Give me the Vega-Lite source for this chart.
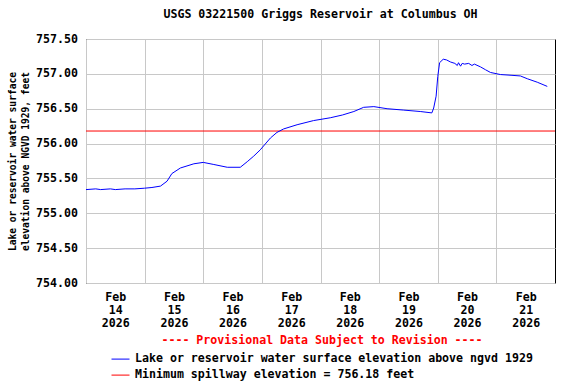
{
  "$schema": "https://vega.github.io/schema/vega-lite/v6.json",
  "width": 469,
  "height": 244,
  "autosize": "none",
  "padding": {"left": 86, "top": 39, "right": 21, "bottom": 101},
  "background": "white",
  "title": {
    "text": "USGS 03221500 Griggs Reservoir at Columbus OH",
    "font": "DejaVu Sans Mono",
    "fontWeight": "bold",
    "fontSize": 11.6,
    "color": "black",
    "anchor": "middle",
    "offset": 12
  },
  "config": {
    "view": {"stroke": "black", "strokeWidth": 1},
    "axis": {
      "labelFont": "DejaVu Sans Mono",
      "labelFontWeight": "bold",
      "labelFontSize": 11.6,
      "labelColor": "black",
      "titleFont": "DejaVu Sans Mono",
      "titleFontWeight": "bold",
      "titleColor": "black",
      "gridColor": "#c8c8c8",
      "gridOpacity": 1,
      "gridWidth": 1,
      "domain": false,
      "ticks": false
    },
    "legend": {
      "labelFont": "DejaVu Sans Mono",
      "labelFontWeight": "bold",
      "labelFontSize": 11.6,
      "labelColor": "black",
      "titleFont": "DejaVu Sans Mono",
      "titleFontWeight": "bold",
      "titleFontSize": 11.6
    }
  },
  "datasets": {
    "elev": [
      {"time": "2026-02-14T00:00:00", "elev": 755.34},
      {"time": "2026-02-14T04:00:00", "elev": 755.35},
      {"time": "2026-02-14T06:00:00", "elev": 755.34},
      {"time": "2026-02-14T10:00:00", "elev": 755.35},
      {"time": "2026-02-14T12:00:00", "elev": 755.34},
      {"time": "2026-02-14T16:00:00", "elev": 755.35},
      {"time": "2026-02-14T20:00:00", "elev": 755.35},
      {"time": "2026-02-15T00:00:00", "elev": 755.36},
      {"time": "2026-02-15T03:00:00", "elev": 755.37},
      {"time": "2026-02-15T06:30:00", "elev": 755.39},
      {"time": "2026-02-15T09:10:00", "elev": 755.46},
      {"time": "2026-02-15T11:10:00", "elev": 755.57},
      {"time": "2026-02-15T14:40:00", "elev": 755.65},
      {"time": "2026-02-15T20:10:00", "elev": 755.71},
      {"time": "2026-02-16T00:00:00", "elev": 755.73},
      {"time": "2026-02-16T04:20:00", "elev": 755.70},
      {"time": "2026-02-16T09:50:00", "elev": 755.66},
      {"time": "2026-02-16T15:10:00", "elev": 755.66},
      {"time": "2026-02-16T18:00:00", "elev": 755.74},
      {"time": "2026-02-16T20:40:00", "elev": 755.82},
      {"time": "2026-02-16T23:20:00", "elev": 755.91},
      {"time": "2026-02-17T03:30:00", "elev": 756.08},
      {"time": "2026-02-17T06:10:00", "elev": 756.16},
      {"time": "2026-02-17T08:55:00", "elev": 756.21},
      {"time": "2026-02-17T14:25:00", "elev": 756.27},
      {"time": "2026-02-17T21:10:00", "elev": 756.33},
      {"time": "2026-02-18T04:00:00", "elev": 756.37},
      {"time": "2026-02-18T09:00:00", "elev": 756.41},
      {"time": "2026-02-18T13:40:00", "elev": 756.46},
      {"time": "2026-02-18T17:40:00", "elev": 756.52},
      {"time": "2026-02-18T21:50:00", "elev": 756.53},
      {"time": "2026-02-19T03:15:00", "elev": 756.50},
      {"time": "2026-02-19T10:05:00", "elev": 756.48},
      {"time": "2026-02-19T16:50:00", "elev": 756.46},
      {"time": "2026-02-19T21:35:00", "elev": 756.44},
      {"time": "2026-02-19T22:20:00", "elev": 756.51},
      {"time": "2026-02-19T23:20:00", "elev": 756.68},
      {"time": "2026-02-20T00:00:00", "elev": 756.96},
      {"time": "2026-02-20T00:45:00", "elev": 757.16},
      {"time": "2026-02-20T02:15:00", "elev": 757.21},
      {"time": "2026-02-20T03:35:00", "elev": 757.20},
      {"time": "2026-02-20T05:15:00", "elev": 757.17},
      {"time": "2026-02-20T07:00:00", "elev": 757.15},
      {"time": "2026-02-20T08:00:00", "elev": 757.12},
      {"time": "2026-02-20T08:30:00", "elev": 757.16},
      {"time": "2026-02-20T09:20:00", "elev": 757.11},
      {"time": "2026-02-20T10:00:00", "elev": 757.15},
      {"time": "2026-02-20T11:00:00", "elev": 757.14},
      {"time": "2026-02-20T12:40:00", "elev": 757.15},
      {"time": "2026-02-20T14:00:00", "elev": 757.12},
      {"time": "2026-02-20T15:00:00", "elev": 757.14},
      {"time": "2026-02-20T17:30:00", "elev": 757.10},
      {"time": "2026-02-20T19:30:00", "elev": 757.06},
      {"time": "2026-02-20T21:35:00", "elev": 757.02},
      {"time": "2026-02-21T01:40:00", "elev": 756.99},
      {"time": "2026-02-21T06:00:00", "elev": 756.98},
      {"time": "2026-02-21T09:50:00", "elev": 756.97},
      {"time": "2026-02-21T12:40:00", "elev": 756.93},
      {"time": "2026-02-21T16:45:00", "elev": 756.88},
      {"time": "2026-02-21T20:50:00", "elev": 756.82}
    ],
    "spill": [
      {"series": "Minimum spillway elevation = 756.18 feet", "elev": 756.18}
    ]
  },
  "encoding": {
    "y": {
      "field": "elev",
      "type": "quantitative",
      "scale": {"domain": [754, 757.5], "nice": false, "zero": false},
      "axis": {
        "title": ["Lake or reservoir water surface", "elevation above NGVD 1929, feet"],
        "titleFontSize": 9.6,
        "titleLineHeight": 13.3,
        "titlePadding": 5,
        "values": [754, 754.5, 755, 755.5, 756, 756.5, 757, 757.5],
        "format": ".2f",
        "labelPadding": 8.5,
        "labelFlush": false,
        "labelOverlap": false
      }
    },
    "color": {
      "field": "series",
      "type": "nominal",
      "scale": {
        "domain": ["Lake or reservoir water surface elevation above ngvd 1929", "Minimum spillway elevation = 756.18 feet"],
        "range": ["#0000ff", "#ff0000"]
      },
      "legend": {
        "title": "---- Provisional Data Subject to Revision ----",
        "titleColor": "#ff0000",
        "titleAnchor": "middle",
        "titlePadding": 3,
        "titleLimit": 600,
        "orient": "none",
        "legendX": 25,
        "legendY": 296,
        "direction": "vertical",
        "symbolType": "stroke",
        "symbolSize": 324,
        "symbolStrokeWidth": 1,
        "labelOffset": 5,
        "rowPadding": -4,
        "labelLimit": 600
      }
    }
  },
  "layer": [
    {
      "data": {"name": "spill"},
      "mark": {"type": "rule", "strokeWidth": 1}
    },
    {
      "data": {"name": "elev"},
      "transform": [
        {"calculate": "'Lake or reservoir water surface elevation above ngvd 1929'", "as": "series"}
      ],
      "mark": {"type": "line", "strokeWidth": 1, "interpolate": "linear"},
      "encoding": {
        "x": {
          "field": "time",
          "type": "temporal",
          "scale": {
            "domain": [
              {"year": 2026, "month": 2, "date": 14},
              {"year": 2026, "month": 2, "date": 22}
            ],
            "nice": false
          },
          "axis": {
            "title": null,
            "values": [
              {"year": 2026, "month": 2, "date": 14},
              {"year": 2026, "month": 2, "date": 15},
              {"year": 2026, "month": 2, "date": 16},
              {"year": 2026, "month": 2, "date": 17},
              {"year": 2026, "month": 2, "date": 18},
              {"year": 2026, "month": 2, "date": 19},
              {"year": 2026, "month": 2, "date": 20},
              {"year": 2026, "month": 2, "date": 21}
            ],
            "labelExpr": "[timeFormat(datum.value, '%b'), timeFormat(datum.value, '%d'), timeFormat(datum.value, '%Y')]",
            "labelOffset": 29.3,
            "labelPadding": 8,
            "labelLineHeight": 13.3,
            "labelFlush": false,
            "labelOverlap": false,
            "labelAlign": "center",
            "labelBaseline": "top"
          }
        }
      }
    }
  ]
}
